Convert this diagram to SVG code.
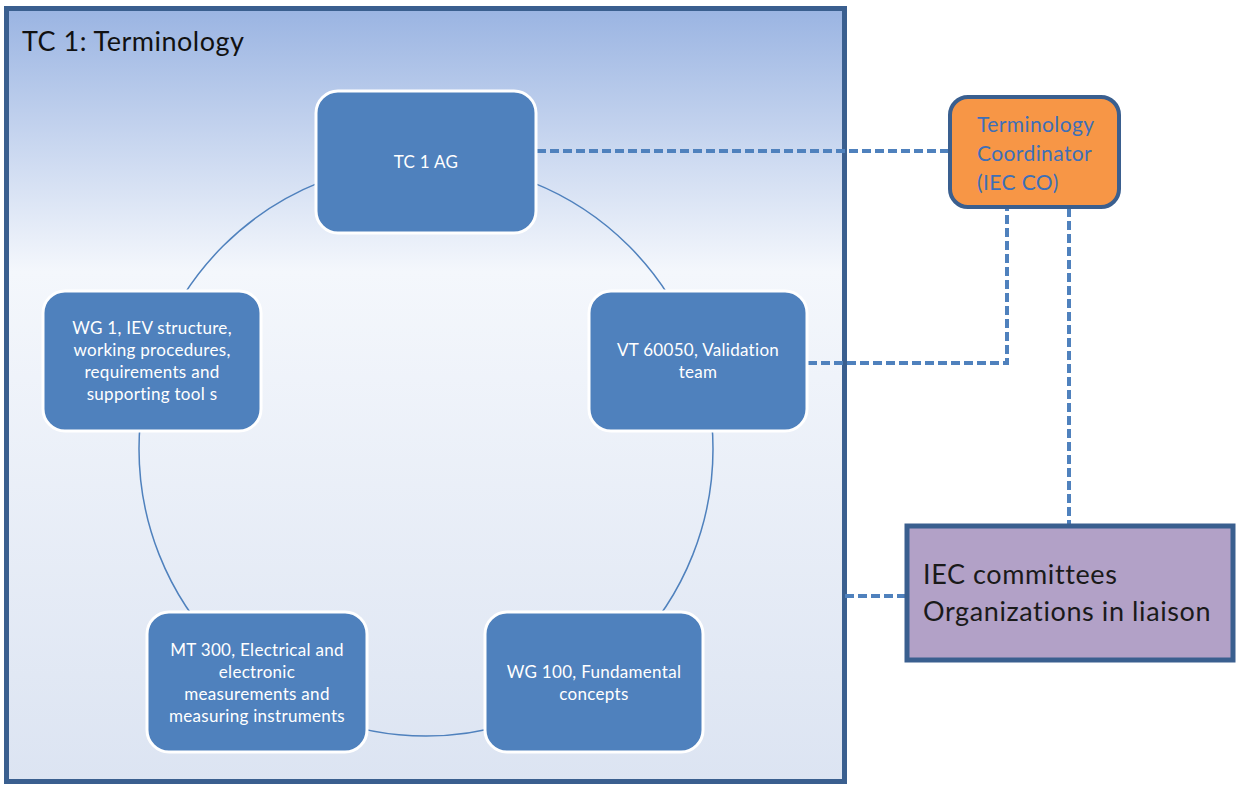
<svg xmlns="http://www.w3.org/2000/svg" width="1236" height="785" viewBox="0 0 1236 785">
<defs>
<linearGradient id="bg" x1="0" y1="0" x2="0" y2="1">
<stop offset="0" stop-color="#9AB4E2"/>
<stop offset="0.34" stop-color="#F4F7FC"/>
<stop offset="1" stop-color="#DCE4F2"/>
</linearGradient>
<style>
.node rect{fill:#4F81BD;stroke:#FFFFFF;stroke-width:3}
.nt{font-family:Lato,"Open Sans",sans-serif;font-size:17px;letter-spacing:0.3px;fill:#FFFFFF;text-anchor:middle}
.dash{fill:none;stroke:#4F81BD;stroke-width:4;stroke-dasharray:9 4}
</style>
</defs>
<rect width="1236" height="785" fill="#FFFFFF"/>
<g id="tc1">
<rect x="6.5" y="8.5" width="838" height="773" fill="url(#bg)" stroke="#3A5F8F" stroke-width="5"/>
<text x="22" y="51" font-family="Lato,'Open Sans',sans-serif" font-size="27" letter-spacing="0.5" fill="#111111">TC 1: Terminology</text>
</g>
<g id="cycle">
<circle cx="426" cy="449" r="287" fill="none" stroke="#4F81BD" stroke-width="1.5"/>
</g>
<g id="connectors">
<path class="dash" d="M537 151 H948"/>
<path class="dash" d="M808 363 H1007 V208"/>
<path class="dash" d="M1069 208 V524"/>
<path class="dash" d="M845 596 H905"/>
</g>
<g id="n-tc1ag" class="node">
<rect x="316" y="91" width="220" height="142" rx="22"/>
<text class="nt" x="426" y="168">TC 1 AG</text>
</g>
<g id="n-vt" class="node">
<rect x="589" y="291" width="218" height="140" rx="22"/>
<text class="nt" x="698" y="356">VT 60050, Validation</text>
<text class="nt" x="698" y="378">team</text>
</g>
<g id="n-wg100" class="node">
<rect x="485" y="612" width="218" height="140" rx="22"/>
<text class="nt" x="594" y="678">WG 100, Fundamental</text>
<text class="nt" x="594" y="700">concepts</text>
</g>
<g id="n-mt300" class="node">
<rect x="147" y="612" width="220" height="140" rx="22"/>
<text class="nt" x="257" y="656">MT 300, Electrical and</text>
<text class="nt" x="257" y="678">electronic</text>
<text class="nt" x="257" y="700">measurements and</text>
<text class="nt" x="257" y="722">measuring instruments</text>
</g>
<g id="n-wg1" class="node">
<rect x="43" y="291" width="218" height="140" rx="22"/>
<text class="nt" x="152" y="334">WG 1, IEV structure,</text>
<text class="nt" x="152" y="356">working procedures,</text>
<text class="nt" x="152" y="378">requirements and</text>
<text class="nt" x="152" y="400">supporting tool s</text>
</g>
<g id="coordinator">
<rect x="950" y="97" width="169" height="110" rx="18" fill="#F79646" stroke="#3A5F8F" stroke-width="4"/>
<text font-family="Lato,'Open Sans',sans-serif" font-size="21" letter-spacing="0.4" fill="#3D6FB8">
<tspan x="977" y="132">Terminology</tspan>
<tspan x="977" y="161">Coordinator</tspan>
<tspan x="977" y="190">(IEC CO)</tspan>
</text>
</g>
<g id="iec">
<rect x="907" y="526" width="326" height="134" fill="#B2A1C7" stroke="#3A5F8F" stroke-width="5"/>
<text font-family="Lato,'Open Sans',sans-serif" font-size="27" letter-spacing="0.6" fill="#1A1A1A">
<tspan x="923" y="584">IEC committees</tspan>
<tspan x="923" y="621">Organizations in liaison</tspan>
</text>
</g>
</svg>
